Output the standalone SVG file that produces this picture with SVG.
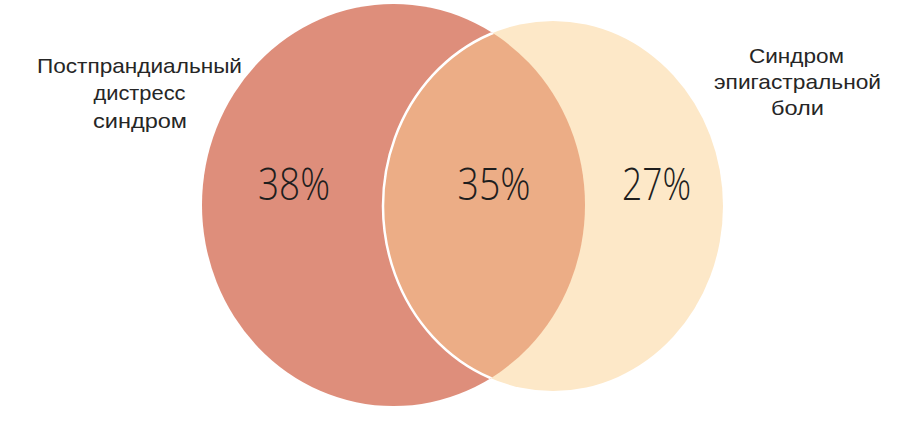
<svg xmlns="http://www.w3.org/2000/svg" width="912" height="438" viewBox="0 0 912 438">
  <style>
    .lbl { font-family: "Liberation Sans", Arial, sans-serif; font-size: 21px; fill: #262626; text-anchor: middle; }
    .pct { font-family: "Open Sans", "Noto Sans", "DejaVu Sans", sans-serif; font-size: 44px; font-weight: 300; fill: #1e1e1e; text-anchor: middle; }
  </style>
  <defs>
    <clipPath id="clipLeft">
      <ellipse cx="393.5" cy="205" rx="191.5" ry="201"/>
    </clipPath>
  </defs>
  <rect width="912" height="438" fill="#ffffff"/>

  <g id="set-postprandial">
    <ellipse cx="393.5" cy="205" rx="191.5" ry="201" fill="#DE8E7B"/>
  </g>

  <g id="set-epigastric">
    <ellipse cx="553" cy="206" rx="170" ry="185" fill="#FDE8C8"/>
  </g>

  <g id="overlap">
    <g clip-path="url(#clipLeft)">
      <ellipse cx="553" cy="206" rx="170" ry="185" fill="#ECAD86"/>
      <ellipse cx="553" cy="206" rx="170" ry="185" fill="none" stroke="#ffffff" stroke-width="2.5"/>
    </g>
  </g>

  <g id="label-postprandial">
    <text class="lbl" x="139.5" y="73" textLength="205" lengthAdjust="spacingAndGlyphs">Постпрандиальный</text>
    <text class="lbl" x="139.5" y="100" textLength="92" lengthAdjust="spacingAndGlyphs">дистресс</text>
    <text class="lbl" x="140" y="128" textLength="94" lengthAdjust="spacingAndGlyphs">синдром</text>
  </g>

  <g id="label-epigastric">
    <text class="lbl" x="796.5" y="63" textLength="95" lengthAdjust="spacingAndGlyphs">Синдром</text>
    <text class="lbl" x="797.5" y="89" textLength="167" lengthAdjust="spacingAndGlyphs">эпигастральной</text>
    <text class="lbl" x="797.5" y="115" textLength="53" lengthAdjust="spacingAndGlyphs">боли</text>
  </g>

  <g id="values">
    <text class="pct" x="294" y="200" textLength="72" lengthAdjust="spacingAndGlyphs">38%</text>
    <text class="pct" x="494" y="200" textLength="73" lengthAdjust="spacingAndGlyphs">35%</text>
    <text class="pct" x="656.5" y="200" textLength="69" lengthAdjust="spacingAndGlyphs">27%</text>
  </g>
</svg>
